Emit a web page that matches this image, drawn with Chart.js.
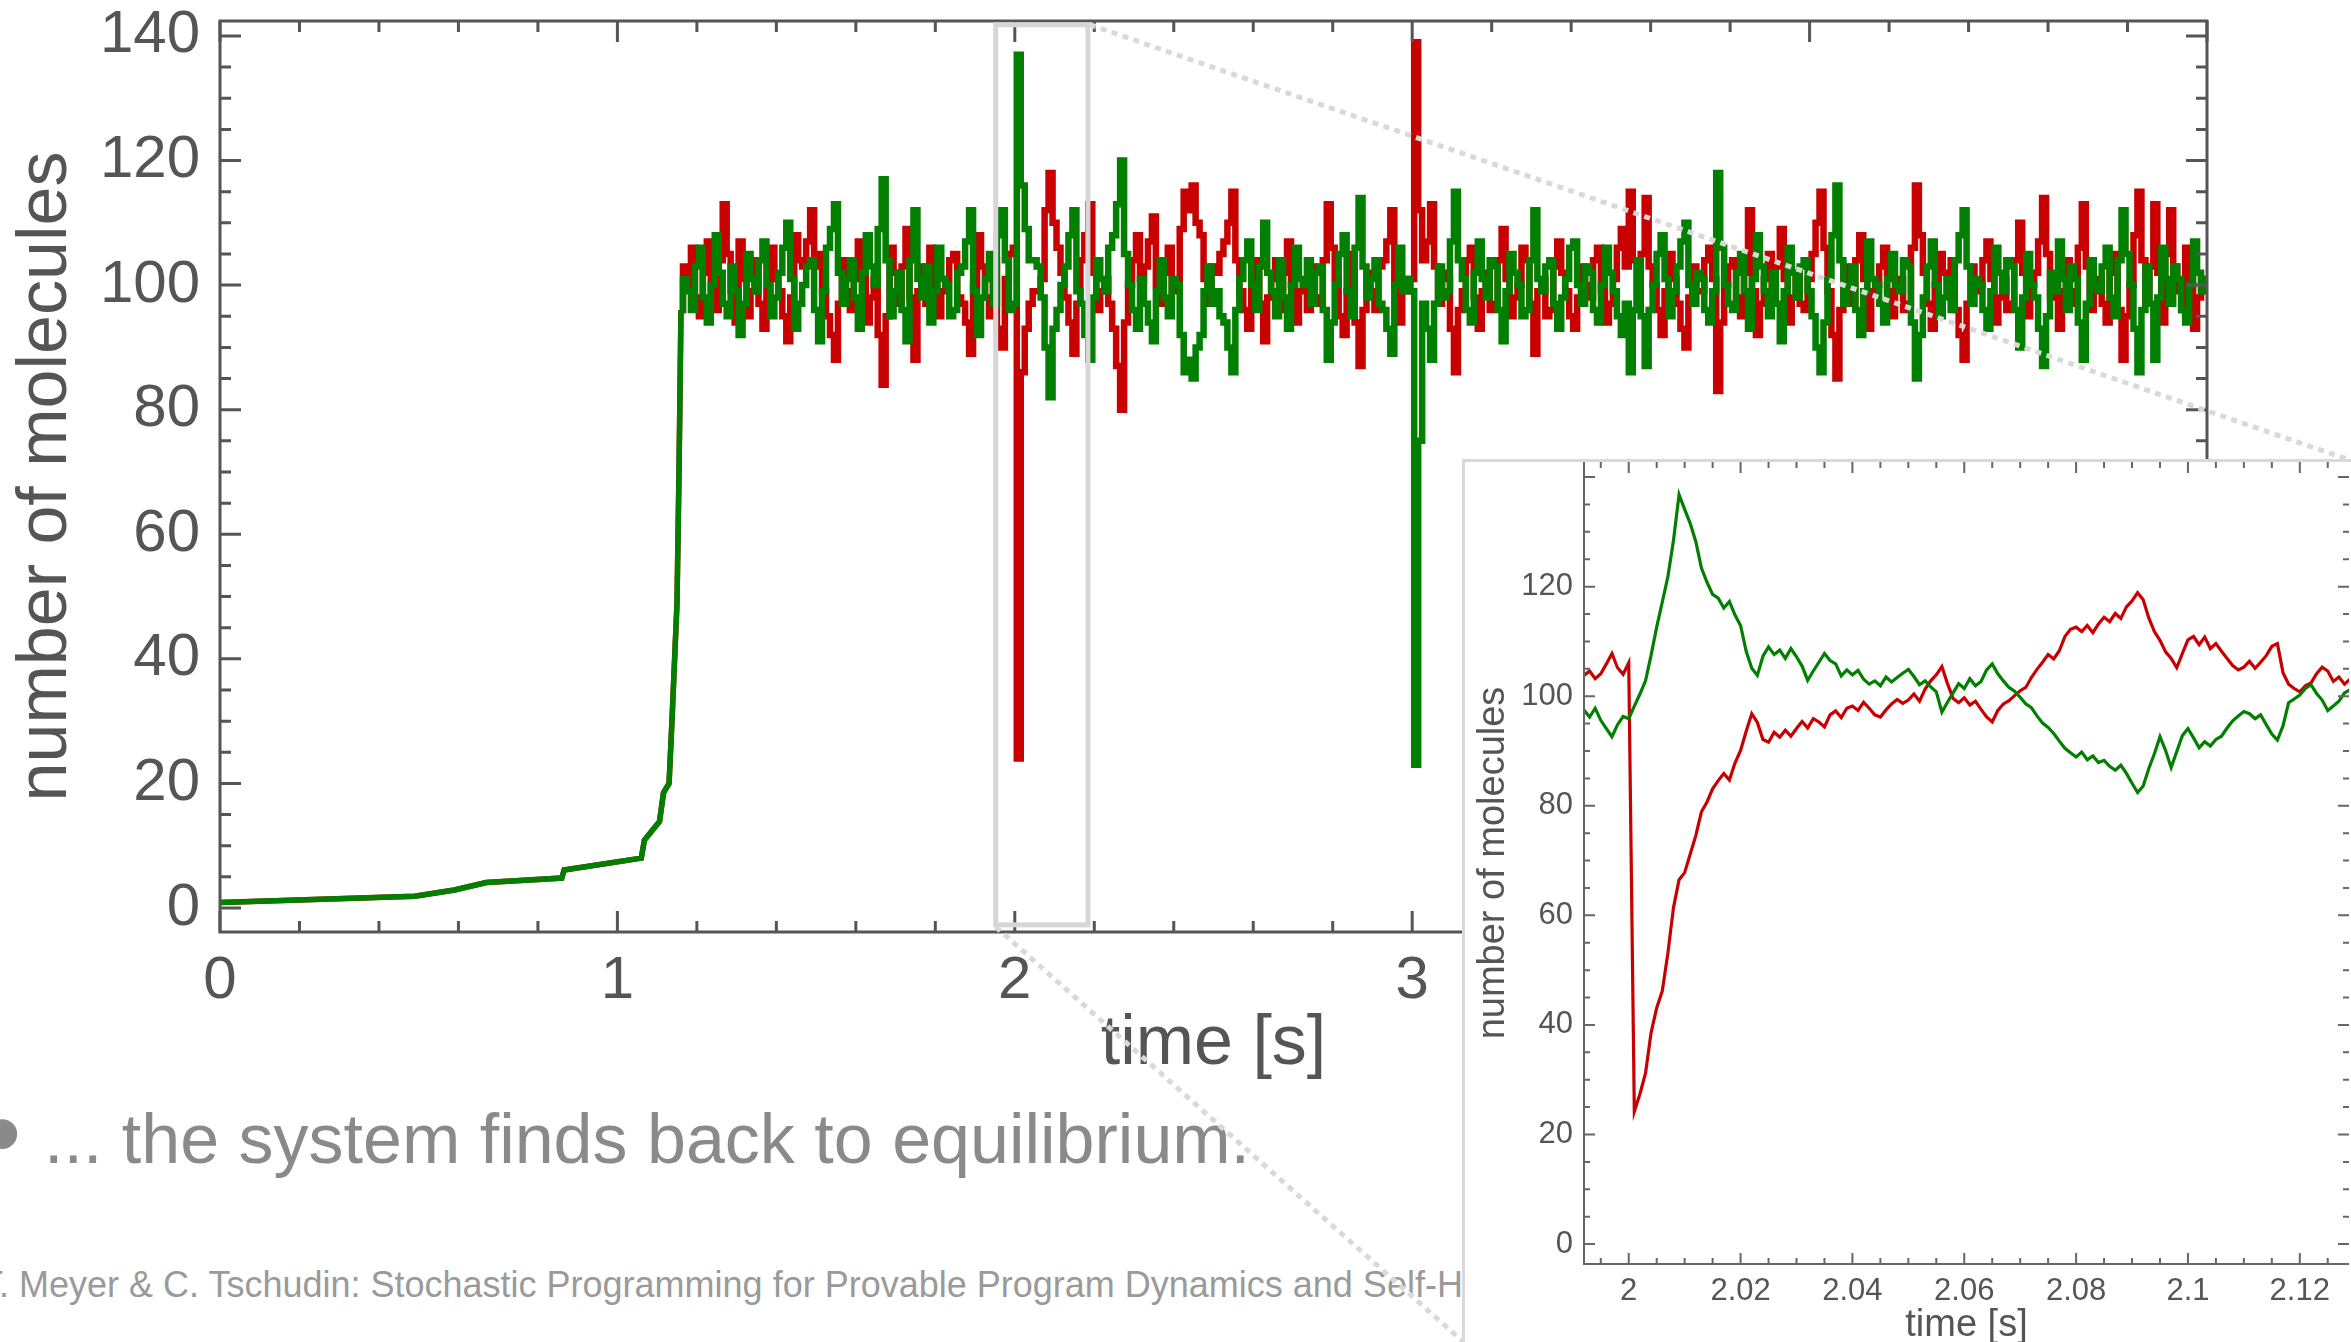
<!DOCTYPE html>
<html lang="en">
<head>
<meta charset="UTF-8">
<title>Number of molecules over time</title>
<script src="https://cdn.jsdelivr.net/npm/chart.js"></script>
<style>
  html, body { margin: 0; padding: 0; background: #fff; overflow: hidden; }
  body { width: 2351px; height: 1342px; position: relative; font-family: 'Liberation Sans', Arial, sans-serif; }
  #mainChart { position: absolute; left: 0; top: 0; z-index: 1; }
  .bullet { position: absolute; left: -17px; top: 1077px; font-size: 110px; line-height: 110px; color: #8a8a8a; }
  .point { position: absolute; left: 44px; top: 1104px; font-size: 70px; line-height: 70px; color: #8a8a8a; white-space: nowrap; }
  .footer { position: absolute; left: -19px; top: 1267px; font-size: 36px; line-height: 36px; color: #9a9a9a; white-space: nowrap; }
  #inset { position: absolute; left: 1462px; top: 459px; width: 889px; height: 883px; box-sizing: border-box;
           border-left: 3px solid #d9d9d9; border-top: 3px solid #d9d9d9; background: #fff; z-index: 2; }
  #insetChart { display: block; }
</style>
</head>
<body>

<span class="bullet">•</span>
<div class="point">... the system finds back to equilibrium.</div>
<div class="footer">T. Meyer &amp; C. Tschudin: Stochastic Programming for Provable Program Dynamics and Self-Healing</div>

<canvas id="mainChart" width="2351" height="1342"></canvas>

<div id="inset">
  <canvas id="insetChart" width="886" height="880"></canvas>
</div>

<script>
  // start-up phase (both species identical, red hidden under green)
  const riseTime  = [0, 0.49, 0.59, 0.67, 0.86, 0.866, 1.06, 1.068, 1.082, 1.106, 1.116, 1.13, 1.138, 1.15, 1.155, 1.16];
  const riseCount = [0.9, 1.9, 2.9, 4.1, 4.8, 6.1, 8.0, 10.9, 12, 13.9, 18.5, 20, 31, 49, 70, 96];

  // steady state, read every 0.01 s from 1.17 s (20 values = 0.2 s per row)
  const runStart = 1.17, runStep = 0.01;
  const greenRun = [
    101, 99, 96, 103, 106, 98, 94, 100, 108, 102, 97, 95, 103, 99, 92, 97, 105, 101, 99, 104,
    107, 100, 95, 98, 102, 106, 110, 101, 93, 97, 100, 103, 104, 96, 91, 99, 106, 109, 113, 102,
    97, 101, 104, 98, 93, 102, 108, 103, 100, 109, 117, 104, 95, 99, 102, 96, 91, 104, 112, 101,
    98, 103, 94, 99, 106, 101, 100, 95, 96, 102, 103, 107, 112, 99, 92, 98, 101, 105, 97, 108,
    112, 104, 96, 97, 137, 116, 109, 104, 104, 103, 98, 90, 82, 93, 96, 100, 103, 108, 112, 99,
    97, 92, 88, 98, 104, 101, 99, 106, 108, 113, 120, 105, 100, 96, 93, 101, 97, 94, 91, 99,
    104, 98, 95, 101, 100, 92, 86, 88, 85, 90, 92, 99, 103, 97, 99, 95, 94, 90, 86, 96,
    101, 104, 107, 100, 96, 103, 110, 102, 99, 95, 104, 98, 93, 100, 106, 101, 100, 104, 97, 102,
    103, 96, 88, 94, 100, 105, 108, 99, 95, 106, 114, 103, 98, 101, 104, 97, 96, 93, 89, 100,
    106, 99, 101, 99, 23, 75, 97, 93, 88, 97, 103, 98, 99, 107, 115, 104, 101, 96, 94, 102,
    107, 101, 98, 104, 103, 96, 91, 99, 105, 102, 100, 95, 96, 104, 112, 101, 99, 103, 104, 97,
    93, 98, 101, 106, 107, 100, 97, 103, 102, 96, 94, 100, 106, 102, 99, 95, 92, 97, 86, 96,
    104, 95, 87, 96, 100, 105, 108, 101, 95, 99, 103, 107, 110, 100, 97, 102, 101, 96, 94, 99,
    118, 106, 100, 97, 96, 102, 105, 99, 93, 101, 108, 103, 99, 95, 102, 97, 91, 99, 106, 102,
    98, 103, 104, 99, 95, 90, 86, 94, 101, 108, 116, 104, 97, 100, 103, 96, 92, 99, 107, 101,
    100, 97, 94, 101, 105, 100, 99, 104, 103, 94, 85, 92, 98, 103, 107, 100, 95, 98, 101, 96,
    104, 108, 112, 103, 97, 101, 100, 96, 93, 99, 106, 102, 99, 104, 103, 96, 90, 98, 105, 100,
    98, 93, 87, 95, 102, 99, 107, 101, 96, 103, 101, 94, 88, 97, 104, 100, 99, 103, 106, 98,
    95, 104, 112, 105, 100, 93, 86, 96, 103, 97, 88, 98, 106, 101, 97, 103, 101, 96, 94, 100,
    107, 102, 99, 101, 103
  ];
  const redRun = [
    103, 100, 106, 98, 95, 102, 107, 99, 96, 104, 113, 105, 99, 94, 107, 101, 95, 99, 104, 97,
    93, 99, 106, 101, 99, 95, 91, 98, 108, 104, 103, 107, 112, 103, 105, 99, 95, 92, 88, 97,
    104, 99, 96, 101, 107, 102, 94, 98, 101, 92, 84, 95, 106, 102, 97, 103, 109, 98, 88, 99,
    103, 97, 106, 100, 95, 99, 101, 104, 105, 98, 97, 94, 89, 100, 108, 103, 98, 95, 104, 93,
    90, 101, 105, 106, 24, 86, 93, 97, 99, 99, 101, 112, 118, 110, 106, 102, 98, 94, 89, 97,
    104, 108, 113, 102, 96, 99, 101, 97, 93, 87, 80, 94, 100, 104, 108, 101, 103, 107, 111, 100,
    97, 102, 106, 99, 101, 109, 115, 112, 116, 110, 108, 101, 97, 103, 102, 105, 107, 110, 115, 104,
    99, 96, 93, 100, 104, 97, 91, 98, 101, 104, 96, 102, 107, 100, 94, 99, 100, 96, 103, 98,
    97, 104, 113, 106, 101, 95, 92, 99, 105, 94, 87, 96, 102, 99, 96, 103, 104, 107, 112, 100,
    94, 101, 99, 101, 139, 112, 104, 107, 113, 103, 97, 102, 101, 93, 86, 96, 99, 104, 106, 98,
    93, 99, 102, 96, 97, 104, 109, 101, 95, 98, 100, 106, 104, 97, 89, 99, 101, 95, 96, 103,
    107, 102, 99, 95, 93, 98, 103, 100, 98, 104, 106, 99, 94, 97, 101, 106, 109, 103, 115, 104,
    96, 105, 114, 103, 100, 96, 92, 99, 105, 101, 97, 93, 90, 98, 103, 99, 99, 104, 106, 101,
    83, 94, 100, 103, 104, 98, 95, 102, 112, 99, 92, 97, 101, 105, 98, 103, 109, 101, 94, 98,
    102, 97, 96, 101, 105, 110, 115, 106, 99, 92, 85, 96, 103, 100, 97, 104, 108, 101, 93, 99,
    100, 103, 106, 99, 95, 100, 101, 96, 97, 106, 116, 108, 102, 97, 93, 100, 105, 102, 99, 104,
    96, 92, 88, 97, 103, 99, 100, 104, 107, 101, 94, 98, 101, 96, 97, 104, 110, 102, 95, 100,
    102, 107, 114, 105, 98, 101, 93, 99, 104, 97, 99, 106, 113, 103, 96, 99, 101, 97, 94, 102,
    105, 96, 88, 95, 100, 108, 115, 104, 97, 103, 113, 102, 94, 105, 112, 103, 99, 96, 106, 100,
    93, 98, 101, 99, 97
  ];

  // zoomed window, read every 1 ms from 1.992 s
  const zoomStart = 1.992, zoomStep = 0.001;
  const greenZoom = [
    97.5, 96.2, 97.8, 95.6, 94.1, 92.6, 94.8, 96.3, 95.9, 98.2,
    100.4, 102.8, 107.5, 112.6, 117.2, 121.8, 128.4, 136.8, 134.1, 131.5,
    128.2, 123.4, 120.8, 118.6, 117.9, 116.1, 117.3, 114.8, 112.9, 108.2,
    105.1, 103.8, 107.3, 109.0, 107.6, 108.4, 106.9, 108.7, 107.2, 105.5,
    102.9, 104.6, 106.2, 107.8, 106.5, 105.9, 103.7, 104.8, 103.9, 104.7,
    103.1, 102.2, 102.8, 101.9, 103.5, 102.6, 103.4, 104.2, 104.9, 103.6,
    102.1, 102.8, 101.7, 100.8, 97.1, 98.9, 100.6, 102.3, 101.4, 103.2,
    101.9, 102.7, 104.8, 105.9, 104.1, 102.8, 101.6, 100.9, 99.8, 98.6,
    97.9, 96.4, 95.1, 94.3, 93.2, 91.8, 90.5, 89.7, 88.9, 89.8,
    88.4, 89.1, 87.9, 88.3, 87.2, 86.5, 87.4, 85.9, 84.1, 82.4,
    83.6, 86.8, 89.5, 92.6, 90.1, 87.0, 89.9, 92.8, 94.1, 92.4,
    90.6, 91.7, 90.9, 92.1, 92.7, 94.2, 95.5, 96.4, 97.2, 96.8,
    95.9, 96.6, 94.8, 93.1, 92.0, 94.6, 98.8, 99.5, 100.2, 101.4,
    102.1, 100.5, 99.3, 97.4, 98.2, 99.1, 100.6, 101.2
  ];
  const redZoom = [
    103.8, 104.6, 103.2, 104.1, 105.9, 107.8, 105.2, 104.0, 106.1, 24.2,
    27.4, 31.2, 38.6, 43.1, 46.2, 53.1, 61.4, 66.5, 67.8, 71.2,
    74.6, 78.9, 80.7, 83.1, 84.6, 85.9, 84.7, 87.8, 90.1, 93.6,
    96.8, 95.2, 92.1, 91.6, 93.4, 92.5, 93.8, 92.7, 94.1, 95.4,
    94.2, 95.9, 95.3, 94.4, 96.6, 97.3, 96.1, 97.8, 98.2, 97.4,
    98.9, 97.8, 96.6, 96.2, 97.5, 98.6, 99.4, 98.7, 99.3, 100.4,
    99.1, 101.3, 102.8, 103.9, 105.4, 102.3, 99.6, 98.8, 99.7, 98.4,
    99.1, 97.6, 96.2, 95.3, 97.4, 98.6, 99.2, 100.1, 101.0, 101.6,
    103.4, 104.9, 106.2, 107.6, 106.8, 108.3, 110.9, 112.2, 112.6, 111.8,
    112.9, 111.6, 113.2, 114.4, 113.6, 115.1, 114.2, 116.3, 117.4, 118.9,
    117.6, 114.3, 111.8, 110.2, 108.1, 106.9, 105.2, 107.8, 110.3, 110.9,
    109.4, 110.8, 108.7, 109.6, 108.2, 106.9, 105.6, 104.8, 105.3, 106.4,
    105.1, 106.2, 107.4, 109.1, 109.6, 104.3, 102.2, 101.4, 100.8, 101.9,
    102.4, 104.1, 105.3, 104.6, 102.7, 103.5, 102.2, 103.1
  ];

  // tick labels
  const mainXLabels = [0, 1, 2, 3, 4, 5];
  const mainYLabels = [0, 20, 40, 60, 80, 100, 120, 140];
  const zoomXLabels = [2, 2.02, 2.04, 2.06, 2.08, 2.1, 2.12];
  const zoomYLabels = [0, 20, 40, 60, 80, 100, 120];

  const GREEN = '#007f00', RED = '#c80000', AXIS = '#555555';
  Chart.defaults.font.family = "'Liberation Sans', Arial, sans-serif";
  Chart.defaults.color = AXIS;

  const sampled = (start, step, values) => values.map((v, i) => ({x: start + i * step, y: v}));
  const rise = riseTime.map((t, i) => ({x: t, y: riseCount[i]}));
  const riseEnd = rise[rise.length - 1];
  const near = (v, list) => list.some(l => Math.abs(l - v) < 1e-6);
  const isMajor = (v, step) => Math.abs(v / step - Math.round(v / step)) < 1e-6;

  // inward ticks on all four sides plus the frame
  const frameTicks = {
    id: 'frameTicks',
    afterDatasetsDraw(chart, args, o) {
      const {ctx, chartArea: a, scales: {x, y}} = chart;
      ctx.save();
      ctx.strokeStyle = o.color;
      ctx.lineWidth = o.width;
      ctx.beginPath();
      x.ticks.forEach(t => {
        const px = x.getPixelForValue(t.value);
        const len = isMajor(t.value, o.xMajor) ? o.major : o.minor;
        ctx.moveTo(px, a.bottom); ctx.lineTo(px, a.bottom - len);
        ctx.moveTo(px, a.top); ctx.lineTo(px, a.top + len);
      });
      y.ticks.forEach(t => {
        const py = y.getPixelForValue(t.value);
        const len = isMajor(t.value, o.yMajor) ? o.major : o.minor;
        ctx.moveTo(a.left, py); ctx.lineTo(a.left + len, py);
        ctx.moveTo(a.right, py); ctx.lineTo(a.right - len, py);
      });
      ctx.stroke();
      ctx.beginPath();
      if (o.sides.includes('l')) { ctx.moveTo(a.left, a.top); ctx.lineTo(a.left, a.bottom); }
      if (o.sides.includes('b')) { ctx.moveTo(a.left - o.width / 2, a.bottom); ctx.lineTo(a.right, a.bottom); }
      if (o.sides.includes('t')) { ctx.moveTo(a.left - o.width / 2, a.top); ctx.lineTo(a.right + o.width / 2, a.top); }
      if (o.sides.includes('r')) { ctx.moveTo(a.right, a.top); ctx.lineTo(a.right, a.bottom + o.width / 2); }
      ctx.stroke();
      ctx.restore();
    }
  };

  // grey box round the zoomed window and dotted lines to the inset
  const zoomMarker = {
    id: 'zoomMarker',
    afterDraw(chart, args, o) {
      const {ctx, scales: {x, y}} = chart;
      const x0 = x.getPixelForValue(o.t0), x1 = x.getPixelForValue(o.t1);
      const y0 = y.getPixelForValue(o.v1), y1 = y.getPixelForValue(o.v0);
      const box = document.getElementById('inset').getBoundingClientRect();
      ctx.save();
      ctx.strokeStyle = '#d6d6d6';
      ctx.lineWidth = 5;
      ctx.strokeRect(x0, y0, x1 - x0, y1 - y0);
      ctx.setLineDash([6, 5.5]);
      ctx.strokeStyle = '#d9d9d9';
      ctx.beginPath();
      ctx.moveTo(x1 + 2, y0); ctx.lineTo(box.right, box.top + 1.5);
      ctx.moveTo(x0, y1 + 2); ctx.lineTo(box.left + 1.5, box.bottom);
      ctx.stroke();
      ctx.restore();
    }
  };

  const mainLine = {borderWidth: 6.5, pointRadius: 0, tension: 0, fill: false};

  new Chart(document.getElementById('mainChart'), {
    type: 'line',
    data: {
      datasets: [
        {...mainLine, label: 'green', data: rise, borderColor: GREEN, borderWidth: 5.5},
        {...mainLine, label: 'green', data: [riseEnd].concat(sampled(runStart, runStep, greenRun)),
         borderColor: GREEN, stepped: 'middle'},
        {...mainLine, label: 'red', data: [riseEnd].concat(sampled(runStart, runStep, redRun)),
         borderColor: RED, stepped: 'middle'},
        {...mainLine, label: 'red', data: rise, borderColor: RED, borderWidth: 5.5}
      ]
    },
    options: {
      responsive: false,
      animation: false,
      devicePixelRatio: 1,
      layout: {padding: {left: 0, top: 21, right: 144, bottom: 0}},
      plugins: {
        legend: {display: false},
        tooltip: {enabled: false},
        frameTicks: {color: AXIS, width: 3, major: 21, minor: 11, xMajor: 1, yMajor: 20, sides: 'ltrb'},
        zoomMarker: {t0: 1.952, t1: 2.184, v0: -2.7, v1: 141.8}
      },
      scales: {
        x: {
          type: 'linear', min: 0, max: 5,
          grid: {display: false, drawTicks: false},
          border: {display: false},
          ticks: {stepSize: 0.2, autoSkip: false, maxRotation: 0, minRotation: 0, padding: 13,
                  font: {size: 60}, color: AXIS,
                  callback: v => near(v, mainXLabels) ? String(Math.round(v)) : ''},
          title: {display: true, text: 'time [s]', font: {size: 70}, color: AXIS, padding: {top: 0, bottom: 255}},
          afterFit: s => { s.height = 410; s.paddingLeft = 0; s.paddingRight = 0; }
        },
        y: {
          type: 'linear', min: -3.85, max: 142.4,
          grid: {display: false, drawTicks: false},
          border: {display: false},
          ticks: {stepSize: 5, autoSkip: false, includeBounds: false, padding: 20,
                  font: {size: 60}, color: AXIS,
                  callback: v => near(v, mainYLabels) ? String(Math.round(v)) : ''},
          title: {display: true, text: 'number of molecules', font: {size: 70}, color: AXIS, padding: {top: 5, bottom: 0}},
          afterFit: s => { s.width = 220; s.paddingTop = 0; s.paddingBottom = 0; }
        }
      }
    },
    plugins: [frameTicks, zoomMarker]
  });

  new Chart(document.getElementById('insetChart'), {
    type: 'line',
    data: {
      datasets: [
        {label: 'green', data: sampled(zoomStart, zoomStep, greenZoom),
         borderColor: GREEN, borderWidth: 3.2, pointRadius: 0, tension: 0, fill: false},
        {label: 'red', data: sampled(zoomStart, zoomStep, redZoom),
         borderColor: RED, borderWidth: 3.2, pointRadius: 0, tension: 0, fill: false}
      ]
    },
    options: {
      responsive: false,
      animation: false,
      devicePixelRatio: 1,
      layout: {padding: {left: 0, top: 0, right: 2, bottom: 0}},
      plugins: {
        legend: {display: false},
        tooltip: {enabled: false},
        frameTicks: {color: '#666666', width: 2, major: 11, minor: 6, xMajor: 0.02, yMajor: 20, sides: 'lb'}
      },
      scales: {
        x: {
          type: 'linear', min: 1.992, max: 2.1288,
          grid: {display: false, drawTicks: false},
          border: {display: false},
          ticks: {stepSize: 0.005, autoSkip: false, includeBounds: false, maxRotation: 0, minRotation: 0, padding: 9,
                  font: {size: 31}, color: AXIS,
                  callback: v => near(v, zoomXLabels) ? String(Math.round(v * 100) / 100) : ''},
          title: {display: true, text: 'time [s]', font: {size: 38}, color: AXIS, padding: {top: 0, bottom: -6}},
          afterFit: s => { s.height = 78; s.paddingLeft = 0; s.paddingRight = 0; }
        },
        y: {
          type: 'linear', min: -3.64, max: 142.75,
          grid: {display: false, drawTicks: false},
          border: {display: false},
          ticks: {stepSize: 5, autoSkip: false, includeBounds: false, padding: 11,
                  font: {size: 31}, color: AXIS,
                  callback: v => near(v, zoomYLabels) ? String(Math.round(v)) : ''},
          title: {display: true, text: 'number of molecules', font: {size: 38}, color: AXIS, padding: {top: 6, bottom: 0}},
          afterFit: s => { s.width = 119; s.paddingTop = 0; s.paddingBottom = 0; }
        }
      }
    },
    plugins: [frameTicks]
  });
</script>
</body>
</html>
